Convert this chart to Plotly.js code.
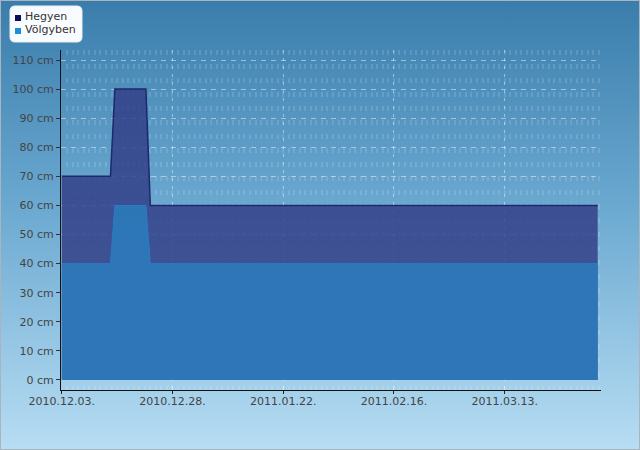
<!DOCTYPE html>
<html>
<head>
<meta charset="utf-8">
<script src="https://cdn.plot.ly/plotly-3.0.1.min.js"></script>
<style>
html,body{margin:0;padding:0;}
#chart{width:640px;height:450px;box-sizing:border-box;border:1px solid #a9b4bc;
background:linear-gradient(to bottom,#3a7dac 0%,#6aa8d0 45%,#b7ddf3 100%);}
</style>
</head>
<body>
<div id="chart"></div>
<script>
const dates = ["2010-12-03","2010-12-14","2010-12-15","2010-12-22","2010-12-23","2011-04-03"];
const hegyen = [70,70,100,100,60,60];
const volgyben = [40,40,60,60,40,40];
const seriesNames = ["Hegyen","Völgyben"];
const yTicks = [0,10,20,30,40,50,60,70,80,90,100,110];
const yTickText = ["0 cm","10 cm","20 cm","30 cm","40 cm","50 cm","60 cm","70 cm","80 cm","90 cm","100 cm","110 cm"];
const xTicks = ["2010-12-03","2010-12-28","2011-01-22","2011-02-16","2011-03-13"];
const xTickText = ["2010.12.03.","2010.12.28.","2011.01.22.","2011.02.16.","2011.03.13."];

// plot area pixel geometry (for legend placement in paper coords)
const L=61, R=601, T=50, B=390;
const px = v => (v-L)/(R-L);
const py = v => (B-v)/(B-T);

function roundRect(x0,y0,x1,y1,r){
  const rx=r/(R-L), ry=r/(B-T);
  const X0=px(x0),X1=px(x1),Y0=py(y0),Y1=py(y1);
  return `M${X0+rx},${Y0} L${X1-rx},${Y0} Q${X1},${Y0} ${X1},${Y0-ry} L${X1},${Y1+ry} Q${X1},${Y1} ${X1-rx},${Y1} L${X0+rx},${Y1} Q${X0},${Y1} ${X0},${Y1+ry} L${X0},${Y0-ry} Q${X0},${Y0} ${X0+rx},${Y0} Z`;
}

const traces = [
  {x:dates,y:hegyen,name:seriesNames[0],type:"scatter",mode:"lines",fill:"tozeroy",
   line:{color:"#1c2a6c",width:1.5},fillcolor:"rgba(50,63,135,0.85)",showlegend:false},
  {x:dates,y:volgyben,name:seriesNames[1],type:"scatter",mode:"lines",fill:"tozeroy",
   line:{color:"#2b7cc6",width:1},fillcolor:"rgba(45,122,186,0.92)",showlegend:false}
];

const font = {family:"DejaVu Sans, sans-serif",size:11,color:"#444"};

const layout = {
  width:638,height:448,
  margin:{l:L-1,r:640-R-1,t:T-1,b:450-B-1,pad:0},
  paper_bgcolor:"rgba(0,0,0,0)",plot_bgcolor:"rgba(0,0,0,0)",
  font:font,
  showlegend:false,
  xaxis:{type:"date",range:["2010-12-02T20:00","2011-04-03T18:00"],
    tickmode:"array",tickvals:xTicks,ticktext:xTickText,
    showline:true,linecolor:"#111",linewidth:1,
    ticks:"outside",ticklen:3,tickcolor:"#222",ticklabelstandoff:-2,
    showgrid:true,gridcolor:"rgba(255,255,255,0.45)",griddash:"3px,5px",gridwidth:1,
    minor:{dtick:108000000,tick0:"2010-12-03",showgrid:true,gridcolor:"rgba(255,255,255,0.13)",griddash:"5px,9px",gridwidth:2,ticks:""},
    zeroline:false,fixedrange:true,tickfont:font},
  yaxis:{range:[-3.44,113.44],tickmode:"array",tickvals:yTicks,ticktext:yTickText,
    showline:true,linecolor:"#111",linewidth:1,
    ticks:"outside",ticklen:4,tickcolor:"#333",
    showgrid:true,gridcolor:"rgba(255,255,255,0.45)",griddash:"5px,5px",gridwidth:1,
    zeroline:false,fixedrange:true,tickfont:font},
  shapes:[
    {type:"path",xref:"paper",yref:"paper",path:roundRect(10,6,82,42,5),
     fillcolor:"#f8fcff",line:{color:"#e8eef4",width:1},layer:"above"},
    {type:"rect",xref:"paper",yref:"paper",x0:px(15),x1:px(21),y0:py(21),y1:py(15),
     fillcolor:"#0c0c5c",line:{width:0},layer:"above"},
    {type:"rect",xref:"paper",yref:"paper",x0:px(15),x1:px(21),y0:py(34),y1:py(28),
     fillcolor:"#1b8fdc",line:{width:0},layer:"above"}
  ],
  annotations:[
    {xref:"paper",yref:"paper",x:px(23),y:py(16.5),text:seriesNames[0],showarrow:false,
     xanchor:"left",yanchor:"middle",font:{family:"DejaVu Sans, sans-serif",size:11,color:"#333"}},
    {xref:"paper",yref:"paper",x:px(23),y:py(29.5),text:seriesNames[1],showarrow:false,
     xanchor:"left",yanchor:"middle",font:{family:"DejaVu Sans, sans-serif",size:11,color:"#333"}}
  ]
};

Plotly.newPlot("chart",traces,layout,{displayModeBar:false,staticPlot:true});
</script>
</body>
</html>
